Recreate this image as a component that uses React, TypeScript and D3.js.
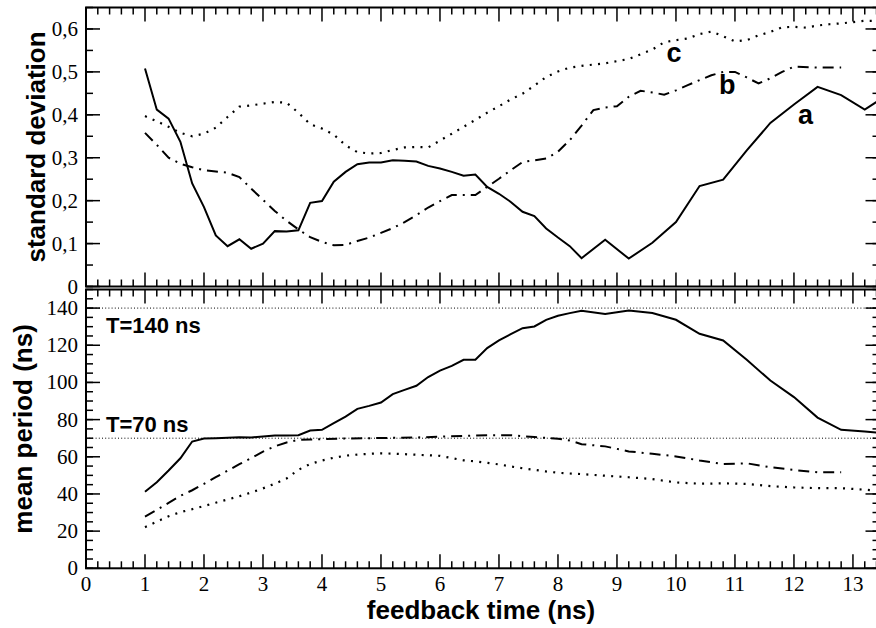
import React from "react";
import * as d3 from "d3";

// ---- data ----
const stdA_t = [1.0,1.2,1.4,1.6,1.8,2.0,2.2,2.4,2.6,2.8,3.0,3.2,3.4,3.6,3.8,4.0,4.2,4.4,4.6,4.8,5.0,5.2,5.4,5.6,5.8,6.0,6.2,6.4,6.6,6.8,7.0,7.2,7.4,7.6,7.8,8.0,8.2,8.4,8.8,9.2,9.6,10.0,10.4,10.8,11.2,11.6,12.0,12.4,12.8,13.2,13.6];
const stdA_v = [0.508,0.412,0.391,0.337,0.240,0.185,0.119,0.094,0.110,0.088,0.100,0.129,0.128,0.131,0.195,0.199,0.244,0.267,0.285,0.289,0.289,0.294,0.293,0.291,0.281,0.275,0.267,0.258,0.261,0.232,0.216,0.197,0.174,0.164,0.135,0.114,0.094,0.066,0.109,0.065,0.102,0.150,0.234,0.249,0.317,0.381,0.424,0.465,0.446,0.412,0.448];

const stdB_t = [1.0,1.2,1.4,1.6,1.8,2.0,2.2,2.4,2.6,2.8,3.0,3.2,3.4,3.6,3.8,4.0,4.2,4.4,4.6,4.8,5.0,5.2,5.4,5.6,5.8,6.0,6.2,6.4,6.6,6.8,7.0,7.2,7.4,7.6,7.8,8.0,8.2,8.4,8.6,8.8,9.0,9.2,9.4,9.6,9.8,10.0,10.2,10.4,10.6,10.8,11.0,11.2,11.4,11.6,11.8,12.0,12.4,12.8];
const stdB_v = [0.358,0.330,0.300,0.286,0.278,0.271,0.268,0.265,0.255,0.228,0.202,0.176,0.153,0.133,0.115,0.104,0.096,0.097,0.106,0.114,0.125,0.136,0.150,0.166,0.184,0.199,0.213,0.213,0.213,0.232,0.251,0.271,0.290,0.294,0.298,0.314,0.341,0.375,0.411,0.417,0.420,0.442,0.456,0.452,0.447,0.457,0.469,0.481,0.492,0.500,0.500,0.487,0.473,0.485,0.500,0.512,0.510,0.510];

const stdC_t = [1.0,1.2,1.4,1.6,1.8,2.0,2.2,2.4,2.6,2.8,3.0,3.2,3.4,3.6,3.8,4.0,4.2,4.4,4.6,4.8,5.0,5.2,5.4,5.6,5.8,6.0,6.2,6.4,6.6,6.8,7.0,7.2,7.4,7.6,7.8,8.0,8.2,8.4,8.8,9.2,9.6,9.8,10.0,10.2,10.4,10.6,10.8,11.0,11.2,11.4,11.6,11.8,12.0,12.2,12.4,12.6,12.8,13.0,13.2,13.4];
const stdC_v = [0.397,0.385,0.372,0.358,0.350,0.356,0.370,0.395,0.419,0.422,0.426,0.430,0.428,0.405,0.378,0.368,0.354,0.329,0.313,0.310,0.311,0.318,0.324,0.325,0.324,0.340,0.356,0.372,0.388,0.405,0.420,0.436,0.449,0.468,0.488,0.501,0.510,0.514,0.520,0.530,0.552,0.569,0.574,0.578,0.588,0.594,0.583,0.571,0.574,0.585,0.593,0.604,0.605,0.603,0.608,0.611,0.613,0.616,0.619,0.619];

const perA_t = stdA_t;
const perA_v = [41.2,46.3,52.6,59.2,68.2,69.8,70.0,70.3,70.5,70.4,70.9,71.4,71.4,71.6,74.1,74.5,78.1,81.6,85.8,87.4,89.2,93.7,96.0,98.2,102.9,106.4,108.9,112.2,112.2,118.5,122.6,126.0,129.2,130.1,133.7,135.9,137.3,138.6,136.8,138.7,137.3,133.7,126.2,122.6,112.2,101.0,92.1,81.1,74.5,73.6,72.4];

const perB_t = [1.0,1.2,1.4,1.6,1.8,2.0,2.2,2.4,2.6,2.8,3.0,3.2,3.4,3.6,3.8,4.0,4.4,4.8,5.2,5.6,6.0,6.4,6.8,7.2,7.6,8.0,8.2,8.4,8.8,9.2,9.6,10.0,10.4,10.8,11.2,11.6,12.0,12.4,12.8];
const perB_v = [27.8,31.4,35.2,39.0,42.0,45.4,49.0,52.5,56.0,59.3,62.8,65.6,67.7,69.1,69.3,69.5,69.8,70.0,70.2,70.4,70.8,71.2,71.6,71.6,70.6,69.7,68.8,66.8,65.6,62.9,61.6,60.2,58.0,56.1,56.5,54.4,52.9,51.7,51.7];

const perC_t = [1.0,1.2,1.4,1.6,1.8,2.0,2.2,2.4,2.6,2.8,3.0,3.2,3.4,3.6,3.8,4.0,4.2,4.4,4.6,4.8,5.0,5.2,5.4,5.6,5.8,6.0,6.2,6.4,6.6,6.8,7.0,7.2,7.4,7.6,7.8,8.0,8.2,8.4,8.8,9.2,9.6,10.0,10.4,10.8,11.2,11.6,12.0,12.4,12.8,13.2,13.4];
const perC_v = [22.1,25.1,28.0,30.2,31.8,33.5,35.3,37.0,38.8,40.8,43.0,45.5,48.3,53.0,56.1,58.0,59.5,60.6,61.2,61.6,61.9,61.7,61.4,61.1,60.8,60.5,59.3,58.1,57.5,56.7,55.9,54.8,53.8,53.0,52.1,51.4,51.0,50.7,49.8,49.0,48.0,46.2,45.5,45.7,45.4,44.2,43.5,43.1,43.1,42.3,41.8];

const xTickLabels = ["0","1","2","3","4","5","6","7","8","9","10","11","12","13"];
const stdTicks = [0, 0.1, 0.2, 0.3, 0.4, 0.5, 0.6];
const stdTickLabels = ["0","0,1","0,2","0,3","0,4","0,5","0,6"];
const perTicks = [0, 20, 40, 60, 80, 100, 120, 140];
const refLevels = [70, 140];
const refLabels = ["T=70 ns", "T=140 ns"];
const seriesLabels = ["a", "b", "c"];

// ---- layout ----
const W = 876, H = 628;
const L = 86, R = 879.5;
const top1 = 7.5, bot1 = 286.5, top2 = 289.5, bot2 = 568.3;
const x = d3.scaleLinear().domain([0, 13.45]).range([L, R]);
const yS = d3.scaleLinear().domain([0, 0.65]).range([bot1, top1]);
const yP = d3.scaleLinear().domain([0, 150]).range([bot2, top2]);

const serif = "Liberation Serif, Times New Roman, Times, DejaVu Serif, Noto Serif, serif";
const sans = "Liberation Sans, Arial, Helvetica, sans-serif";

const zip = (t: number[], v: number[]) => t.map((d, i) => [d, v[i]] as [number, number]);

const styles = {
  solid: { dash: undefined as string | undefined, w: 2 },
  dashdot: { dash: "11,6,2,6", w: 2 },
  dotted: { dash: "2,6.3", w: 2.2 },
};

function Panel({ y, top, bot, yTicks, yLabels, yMinorStep, yMax, clipId }: any) {
  const xMinor = d3.range(0, 13.45, 0.2).filter((t) => Math.abs(t - Math.round(t)) > 1e-6);
  const xMajor = d3.range(0, 14, 1);
  const yMinor = d3.range(0, yMax + 1e-9, yMinorStep);
  const maj = 14, mn = 7;
  return (
    <g>
      <rect x={L} y={top} width={R - L} height={bot - top} fill="none" stroke="#000" strokeWidth={2} />
      {xMinor.map((t, i) => (
        <g key={"xm" + i} stroke="#000" strokeWidth={1.5}>
          <line x1={x(t)} x2={x(t)} y1={bot} y2={bot - mn} />
          <line x1={x(t)} x2={x(t)} y1={top} y2={top + mn} />
        </g>
      ))}
      {xMajor.map((t, i) => (
        <g key={"xM" + i} stroke="#000" strokeWidth={1.5}>
          <line x1={x(t)} x2={x(t)} y1={bot} y2={bot - maj} />
          <line x1={x(t)} x2={x(t)} y1={top} y2={top + maj} />
        </g>
      ))}
      {yMinor.map((v, i) => (
        <g key={"ym" + i} stroke="#000" strokeWidth={1.5}>
          <line x1={L} x2={L + mn} y1={y(v)} y2={y(v)} />
          <line x1={R} x2={R - mn} y1={y(v)} y2={y(v)} />
        </g>
      ))}
      {yTicks.map((v: number, i: number) => (
        <g key={"yM" + i}>
          <line x1={L} x2={L + maj} y1={y(v)} y2={y(v)} stroke="#000" strokeWidth={1.5} />
          <line x1={R} x2={R - maj} y1={y(v)} y2={y(v)} stroke="#000" strokeWidth={1.5} />
          <text x={78} y={y(v) + 7} textAnchor="end" style={{ fontFamily: serif, fontSize: 21 }}>
            {yLabels[i]}
          </text>
        </g>
      ))}
      <clipPath id={clipId}>
        <rect x={L} y={top} width={R - L} height={bot - top} />
      </clipPath>
    </g>
  );
}

export default function App() {
  const lineS = d3.line<[number, number]>().x((d) => x(d[0])).y((d) => yS(d[1]));
  const lineP = d3.line<[number, number]>().x((d) => x(d[0])).y((d) => yP(d[1]));
  const topSeries = [
    { d: zip(stdA_t, stdA_v), s: styles.solid },
    { d: zip(stdB_t, stdB_v), s: styles.dashdot },
    { d: zip(stdC_t, stdC_v), s: styles.dotted },
  ];
  const botSeries = [
    { d: zip(perA_t, perA_v), s: styles.solid },
    { d: zip(perB_t, perB_v), s: styles.dashdot },
    { d: zip(perC_t, perC_v), s: styles.dotted },
  ];
  const labelPos = [
    { t: 12.07, v: 0.378 },
    { t: 10.73, v: 0.448 },
    { t: 9.84, v: 0.522 },
  ];
  const refOffset = [-6, 25];
  return (
    <svg width={W} height={H} style={{ position: "absolute", left: 0, top: 0, background: "#fff" }}>
      <rect x={0} y={0} width={W} height={H} fill="#fff" />
      <Panel y={yS} top={top1} bot={bot1} yTicks={stdTicks} yLabels={stdTickLabels} yMinorStep={0.05} yMax={0.65} clipId="c1" />
      <Panel y={yP} top={top2} bot={bot2} yTicks={perTicks} yLabels={perTicks.map(String)} yMinorStep={5} yMax={150} clipId="c2" />

      {refLevels.map((v, i) => (
        <line key={"ref" + i} x1={L} x2={R} y1={yP(v)} y2={yP(v)} stroke="#000" strokeWidth={1} strokeDasharray="1,2.2" />
      ))}

      <g clipPath="url(#c1)">
        {topSeries.map((s, i) => (
          <path key={"ts" + i} d={lineS(s.d) || ""} fill="none" stroke="#000" strokeWidth={s.s.w} strokeDasharray={s.s.dash} strokeLinejoin="miter" />
        ))}
      </g>
      <g clipPath="url(#c2)">
        {botSeries.map((s, i) => (
          <path key={"bs" + i} d={lineP(s.d) || ""} fill="none" stroke="#000" strokeWidth={s.s.w} strokeDasharray={s.s.dash} strokeLinejoin="miter" />
        ))}
      </g>

      {xTickLabels.map((lab, i) => (
        <text key={"xl" + i} x={x(i)} y={591} textAnchor="middle" style={{ fontFamily: serif, fontSize: 21 }}>
          {lab}
        </text>
      ))}

      {seriesLabels.map((lab, i) => (
        <text key={"sl" + i} x={x(labelPos[i].t)} y={yS(labelPos[i].v)} style={{ fontFamily: sans, fontWeight: "bold", fontSize: 27 }}>
          {lab}
        </text>
      ))}

      {refLabels.map((lab, i) => (
        <text key={"rl" + i} x={106} y={yP(refLevels[i]) + refOffset[i]} style={{ fontFamily: sans, fontWeight: "bold", fontSize: 22 }}>
          {lab}
        </text>
      ))}

      <text x={481} y={619} textAnchor="middle" style={{ fontFamily: sans, fontWeight: "bold", fontSize: 26 }}>
        feedback time (ns)
      </text>
      <text transform={`translate(45,${(top1 + bot1) / 2}) rotate(-90)`} textAnchor="middle" style={{ fontFamily: sans, fontWeight: "bold", fontSize: 26 }}>
        standard deviation
      </text>
      <text transform={`translate(31.5,${(top2 + bot2) / 2}) rotate(-90)`} textAnchor="middle" style={{ fontFamily: sans, fontWeight: "bold", fontSize: 26 }}>
        mean period (ns)
      </text>
    </svg>
  );
}
